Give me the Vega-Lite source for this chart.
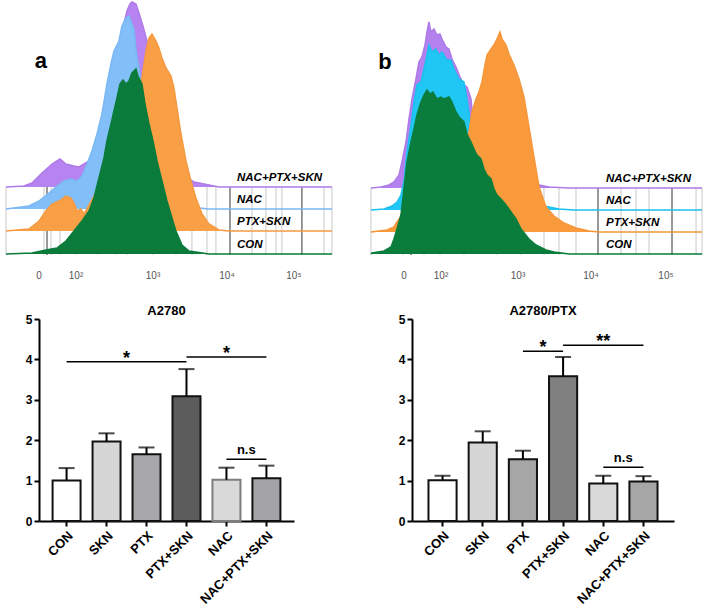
{
"$schema": "https://vega.github.io/schema/vega-lite/v6.json",
"padding": {"left": 3, "top": -2, "right": 0, "bottom": 0},
"background": "white",
"columns": 2,
"bounds": "flush",
"spacing": {"row": 65, "column": 118},
"resolve": {"scale": {"color": "independent", "fill": "independent", "stroke": "independent"}},
"config": {
  "view": {"stroke": null},
  "font": "Liberation Sans",
  "title": {"font": "Liberation Sans", "color": "black"},
  "axis": {"labelFont": "Liberation Sans", "titleFont": "Liberation Sans", "labelColor": "black", "titleColor": "black"},
  "text": {"font": "Liberation Sans"}
},
"datasets": {
  "histA": [
    {"s":"NAC+PTX+SKN","d":1.060,"y":67,"base":67},{"s":"NAC+PTX+SKN","d":1.298,"y":68,"base":67},{"s":"NAC+PTX+SKN","d":1.404,"y":71,"base":67},{"s":"NAC+PTX+SKN","d":1.537,"y":81,"base":67},{"s":"NAC+PTX+SKN","d":1.669,"y":90,"base":67},{"s":"NAC+PTX+SKN","d":1.775,"y":95,"base":67},{"s":"NAC+PTX+SKN","d":1.854,"y":90,"base":67},{"s":"NAC+PTX+SKN","d":1.960,"y":88,"base":67},{"s":"NAC+PTX+SKN","d":2.027,"y":87,"base":67},{"s":"NAC+PTX+SKN","d":2.093,"y":90,"base":67},{"s":"NAC+PTX+SKN","d":2.159,"y":93,"base":67},{"s":"NAC+PTX+SKN","d":2.291,"y":122,"base":67},{"s":"NAC+PTX+SKN","d":2.424,"y":175,"base":67},{"s":"NAC+PTX+SKN","d":2.556,"y":211,"base":67},{"s":"NAC+PTX+SKN","d":2.623,"y":231,"base":67},{"s":"NAC+PTX+SKN","d":2.662,"y":243,"base":67},{"s":"NAC+PTX+SKN","d":2.702,"y":250,"base":67},{"s":"NAC+PTX+SKN","d":2.729,"y":252,"base":67},{"s":"NAC+PTX+SKN","d":2.782,"y":250,"base":67},{"s":"NAC+PTX+SKN","d":2.821,"y":241,"base":67},{"s":"NAC+PTX+SKN","d":2.874,"y":228,"base":67},{"s":"NAC+PTX+SKN","d":2.927,"y":213,"base":67},{"s":"NAC+PTX+SKN","d":2.954,"y":203,"base":67},{"s":"NAC+PTX+SKN","d":3.086,"y":173,"base":67},{"s":"NAC+PTX+SKN","d":3.219,"y":133,"base":67},{"s":"NAC+PTX+SKN","d":3.351,"y":95,"base":67},{"s":"NAC+PTX+SKN","d":3.457,"y":76,"base":67},{"s":"NAC+PTX+SKN","d":3.550,"y":72,"base":67},{"s":"NAC+PTX+SKN","d":3.682,"y":70,"base":67},{"s":"NAC+PTX+SKN","d":3.881,"y":67,"base":67},{"s":"NAC+PTX+SKN","d":5.378,"y":67,"base":67},
    {"s":"NAC","d":1.060,"y":45,"base":45},{"s":"NAC","d":1.364,"y":48,"base":45},{"s":"NAC","d":1.497,"y":53,"base":45},{"s":"NAC","d":1.629,"y":61,"base":45},{"s":"NAC","d":1.735,"y":68,"base":45},{"s":"NAC","d":1.828,"y":73,"base":45},{"s":"NAC","d":1.921,"y":75,"base":45},{"s":"NAC","d":2.000,"y":73,"base":45},{"s":"NAC","d":2.066,"y":78,"base":45},{"s":"NAC","d":2.133,"y":90,"base":45},{"s":"NAC","d":2.199,"y":103,"base":45},{"s":"NAC","d":2.265,"y":120,"base":45},{"s":"NAC","d":2.331,"y":140,"base":45},{"s":"NAC","d":2.397,"y":170,"base":45},{"s":"NAC","d":2.450,"y":190,"base":45},{"s":"NAC","d":2.490,"y":203,"base":45},{"s":"NAC","d":2.556,"y":213,"base":45},{"s":"NAC","d":2.596,"y":228,"base":45},{"s":"NAC","d":2.649,"y":236,"base":45},{"s":"NAC","d":2.689,"y":238,"base":45},{"s":"NAC","d":2.755,"y":225,"base":45},{"s":"NAC","d":2.782,"y":203,"base":45},{"s":"NAC","d":2.821,"y":186,"base":45},{"s":"NAC","d":2.861,"y":168,"base":45},{"s":"NAC","d":2.954,"y":143,"base":45},{"s":"NAC","d":3.086,"y":113,"base":45},{"s":"NAC","d":3.219,"y":83,"base":45},{"s":"NAC","d":3.351,"y":61,"base":45},{"s":"NAC","d":3.484,"y":50,"base":45},{"s":"NAC","d":3.616,"y":46,"base":45},{"s":"NAC","d":3.748,"y":45,"base":45},{"s":"NAC","d":5.378,"y":45,"base":45},
    {"s":"PTX+SKN","d":1.060,"y":23,"base":23},{"s":"PTX+SKN","d":1.364,"y":25,"base":23},{"s":"PTX+SKN","d":1.497,"y":33,"base":23},{"s":"PTX+SKN","d":1.590,"y":43,"base":23},{"s":"PTX+SKN","d":1.669,"y":50,"base":23},{"s":"PTX+SKN","d":1.762,"y":53,"base":23},{"s":"PTX+SKN","d":1.854,"y":58,"base":23},{"s":"PTX+SKN","d":1.921,"y":56,"base":23},{"s":"PTX+SKN","d":1.960,"y":51,"base":23},{"s":"PTX+SKN","d":2.000,"y":43,"base":23},{"s":"PTX+SKN","d":2.053,"y":45,"base":23},{"s":"PTX+SKN","d":2.093,"y":40,"base":23},{"s":"PTX+SKN","d":2.225,"y":58,"base":23},{"s":"PTX+SKN","d":2.424,"y":88,"base":23},{"s":"PTX+SKN","d":2.623,"y":128,"base":23},{"s":"PTX+SKN","d":2.795,"y":163,"base":23},{"s":"PTX+SKN","d":2.861,"y":176,"base":23},{"s":"PTX+SKN","d":2.914,"y":203,"base":23},{"s":"PTX+SKN","d":2.954,"y":216,"base":23},{"s":"PTX+SKN","d":2.993,"y":220,"base":23},{"s":"PTX+SKN","d":3.046,"y":213,"base":23},{"s":"PTX+SKN","d":3.086,"y":206,"base":23},{"s":"PTX+SKN","d":3.126,"y":196,"base":23},{"s":"PTX+SKN","d":3.179,"y":186,"base":23},{"s":"PTX+SKN","d":3.245,"y":178,"base":23},{"s":"PTX+SKN","d":3.285,"y":166,"base":23},{"s":"PTX+SKN","d":3.325,"y":146,"base":23},{"s":"PTX+SKN","d":3.378,"y":120,"base":23},{"s":"PTX+SKN","d":3.444,"y":93,"base":23},{"s":"PTX+SKN","d":3.510,"y":73,"base":23},{"s":"PTX+SKN","d":3.576,"y":56,"base":23},{"s":"PTX+SKN","d":3.656,"y":40,"base":23},{"s":"PTX+SKN","d":3.748,"y":30,"base":23},{"s":"PTX+SKN","d":3.881,"y":24,"base":23},{"s":"PTX+SKN","d":4.013,"y":23,"base":23},{"s":"PTX+SKN","d":5.378,"y":23,"base":23},
    {"s":"CON","d":1.060,"y":0,"base":0},{"s":"CON","d":1.404,"y":1,"base":0},{"s":"CON","d":1.590,"y":4,"base":0},{"s":"CON","d":1.735,"y":6,"base":0},{"s":"CON","d":1.854,"y":13,"base":0},{"s":"CON","d":1.960,"y":23,"base":0},{"s":"CON","d":2.066,"y":33,"base":0},{"s":"CON","d":2.159,"y":43,"base":0},{"s":"CON","d":2.225,"y":56,"base":0},{"s":"CON","d":2.291,"y":76,"base":0},{"s":"CON","d":2.358,"y":96,"base":0},{"s":"CON","d":2.397,"y":113,"base":0},{"s":"CON","d":2.450,"y":130,"base":0},{"s":"CON","d":2.490,"y":143,"base":0},{"s":"CON","d":2.530,"y":156,"base":0},{"s":"CON","d":2.570,"y":170,"base":0},{"s":"CON","d":2.609,"y":174,"base":0},{"s":"CON","d":2.649,"y":170,"base":0},{"s":"CON","d":2.689,"y":173,"base":0},{"s":"CON","d":2.729,"y":181,"base":0},{"s":"CON","d":2.782,"y":185,"base":0},{"s":"CON","d":2.808,"y":178,"base":0},{"s":"CON","d":2.861,"y":170,"base":0},{"s":"CON","d":2.901,"y":150,"base":0},{"s":"CON","d":2.954,"y":130,"base":0},{"s":"CON","d":3.007,"y":113,"base":0},{"s":"CON","d":3.060,"y":93,"base":0},{"s":"CON","d":3.126,"y":73,"base":0},{"s":"CON","d":3.192,"y":53,"base":0},{"s":"CON","d":3.258,"y":36,"base":0},{"s":"CON","d":3.311,"y":23,"base":0},{"s":"CON","d":3.391,"y":9,"base":0},{"s":"CON","d":3.484,"y":3,"base":0},{"s":"CON","d":3.748,"y":0,"base":0},{"s":"CON","d":5.378,"y":0,"base":0}
  ],
  "histB": [
    {"s":"NAC+PTX+SKN","d":1.084,"y":66,"base":66},{"s":"NAC+PTX+SKN","d":1.214,"y":67,"base":66},{"s":"NAC+PTX+SKN","d":1.317,"y":69,"base":66},{"s":"NAC+PTX+SKN","d":1.382,"y":72,"base":66},{"s":"NAC+PTX+SKN","d":1.447,"y":79,"base":66},{"s":"NAC+PTX+SKN","d":1.485,"y":92,"base":66},{"s":"NAC+PTX+SKN","d":1.537,"y":112,"base":66},{"s":"NAC+PTX+SKN","d":1.576,"y":135,"base":66},{"s":"NAC+PTX+SKN","d":1.615,"y":155,"base":66},{"s":"NAC+PTX+SKN","d":1.666,"y":175,"base":66},{"s":"NAC+PTX+SKN","d":1.705,"y":192,"base":66},{"s":"NAC+PTX+SKN","d":1.744,"y":197,"base":66},{"s":"NAC+PTX+SKN","d":1.783,"y":209,"base":66},{"s":"NAC+PTX+SKN","d":1.809,"y":222,"base":66},{"s":"NAC+PTX+SKN","d":1.834,"y":232,"base":66},{"s":"NAC+PTX+SKN","d":1.860,"y":222,"base":66},{"s":"NAC+PTX+SKN","d":1.899,"y":225,"base":66},{"s":"NAC+PTX+SKN","d":1.938,"y":219,"base":66},{"s":"NAC+PTX+SKN","d":1.977,"y":220,"base":66},{"s":"NAC+PTX+SKN","d":2.003,"y":215,"base":66},{"s":"NAC+PTX+SKN","d":2.055,"y":207,"base":66},{"s":"NAC+PTX+SKN","d":2.093,"y":205,"base":66},{"s":"NAC+PTX+SKN","d":2.132,"y":195,"base":66},{"s":"NAC+PTX+SKN","d":2.184,"y":187,"base":66},{"s":"NAC+PTX+SKN","d":2.236,"y":177,"base":66},{"s":"NAC+PTX+SKN","d":2.287,"y":169,"base":66},{"s":"NAC+PTX+SKN","d":2.326,"y":167,"base":66},{"s":"NAC+PTX+SKN","d":2.378,"y":155,"base":66},{"s":"NAC+PTX+SKN","d":2.391,"y":145,"base":66},{"s":"NAC+PTX+SKN","d":2.481,"y":127,"base":66},{"s":"NAC+PTX+SKN","d":2.611,"y":102,"base":66},{"s":"NAC+PTX+SKN","d":2.740,"y":84,"base":66},{"s":"NAC+PTX+SKN","d":2.869,"y":76,"base":66},{"s":"NAC+PTX+SKN","d":2.999,"y":72,"base":66},{"s":"NAC+PTX+SKN","d":3.128,"y":70,"base":66},{"s":"NAC+PTX+SKN","d":3.258,"y":69,"base":66},{"s":"NAC+PTX+SKN","d":3.387,"y":67,"base":66},{"s":"NAC+PTX+SKN","d":3.646,"y":66,"base":66},{"s":"NAC+PTX+SKN","d":5.366,"y":66,"base":66},
    {"s":"NAC","d":1.084,"y":44,"base":44},{"s":"NAC","d":1.253,"y":45,"base":44},{"s":"NAC","d":1.356,"y":48,"base":44},{"s":"NAC","d":1.421,"y":52,"base":44},{"s":"NAC","d":1.472,"y":59,"base":44},{"s":"NAC","d":1.511,"y":72,"base":44},{"s":"NAC","d":1.550,"y":102,"base":44},{"s":"NAC","d":1.602,"y":129,"base":44},{"s":"NAC","d":1.641,"y":152,"base":44},{"s":"NAC","d":1.679,"y":169,"base":44},{"s":"NAC","d":1.731,"y":172,"base":44},{"s":"NAC","d":1.770,"y":185,"base":44},{"s":"NAC","d":1.809,"y":199,"base":44},{"s":"NAC","d":1.834,"y":209,"base":44},{"s":"NAC","d":1.873,"y":202,"base":44},{"s":"NAC","d":1.925,"y":205,"base":44},{"s":"NAC","d":1.964,"y":199,"base":44},{"s":"NAC","d":2.003,"y":202,"base":44},{"s":"NAC","d":2.067,"y":194,"base":44},{"s":"NAC","d":2.119,"y":194,"base":44},{"s":"NAC","d":2.158,"y":185,"base":44},{"s":"NAC","d":2.223,"y":175,"base":44},{"s":"NAC","d":2.287,"y":172,"base":44},{"s":"NAC","d":2.326,"y":155,"base":44},{"s":"NAC","d":2.352,"y":142,"base":44},{"s":"NAC","d":2.378,"y":125,"base":44},{"s":"NAC","d":2.481,"y":102,"base":44},{"s":"NAC","d":2.611,"y":82,"base":44},{"s":"NAC","d":2.740,"y":67,"base":44},{"s":"NAC","d":2.934,"y":56,"base":44},{"s":"NAC","d":3.128,"y":51,"base":44},{"s":"NAC","d":3.258,"y":49,"base":44},{"s":"NAC","d":3.387,"y":47,"base":44},{"s":"NAC","d":3.516,"y":45,"base":44},{"s":"NAC","d":3.710,"y":44,"base":44},{"s":"NAC","d":5.366,"y":44,"base":44},
    {"s":"PTX+SKN","d":1.084,"y":22,"base":22},{"s":"PTX+SKN","d":1.291,"y":24,"base":22},{"s":"PTX+SKN","d":1.382,"y":27,"base":22},{"s":"PTX+SKN","d":1.421,"y":32,"base":22},{"s":"PTX+SKN","d":1.511,"y":42,"base":22},{"s":"PTX+SKN","d":1.705,"y":62,"base":22},{"s":"PTX+SKN","d":1.964,"y":77,"base":22},{"s":"PTX+SKN","d":2.158,"y":92,"base":22},{"s":"PTX+SKN","d":2.287,"y":112,"base":22},{"s":"PTX+SKN","d":2.352,"y":122,"base":22},{"s":"PTX+SKN","d":2.391,"y":142,"base":22},{"s":"PTX+SKN","d":2.443,"y":155,"base":22},{"s":"PTX+SKN","d":2.481,"y":162,"base":22},{"s":"PTX+SKN","d":2.520,"y":172,"base":22},{"s":"PTX+SKN","d":2.559,"y":189,"base":22},{"s":"PTX+SKN","d":2.585,"y":199,"base":22},{"s":"PTX+SKN","d":2.637,"y":205,"base":22},{"s":"PTX+SKN","d":2.675,"y":209,"base":22},{"s":"PTX+SKN","d":2.714,"y":215,"base":22},{"s":"PTX+SKN","d":2.753,"y":222,"base":22},{"s":"PTX+SKN","d":2.779,"y":215,"base":22},{"s":"PTX+SKN","d":2.831,"y":209,"base":22},{"s":"PTX+SKN","d":2.869,"y":200,"base":22},{"s":"PTX+SKN","d":2.934,"y":189,"base":22},{"s":"PTX+SKN","d":2.999,"y":175,"base":22},{"s":"PTX+SKN","d":3.063,"y":157,"base":22},{"s":"PTX+SKN","d":3.128,"y":127,"base":22},{"s":"PTX+SKN","d":3.193,"y":97,"base":22},{"s":"PTX+SKN","d":3.258,"y":67,"base":22},{"s":"PTX+SKN","d":3.348,"y":47,"base":22},{"s":"PTX+SKN","d":3.452,"y":38,"base":22},{"s":"PTX+SKN","d":3.581,"y":31,"base":22},{"s":"PTX+SKN","d":3.736,"y":26,"base":22},{"s":"PTX+SKN","d":3.904,"y":23,"base":22},{"s":"PTX+SKN","d":4.034,"y":22,"base":22},{"s":"PTX+SKN","d":5.366,"y":22,"base":22},
    {"s":"CON","d":1.084,"y":0,"base":0},{"s":"CON","d":1.097,"y":1,"base":0},{"s":"CON","d":1.253,"y":3,"base":0},{"s":"CON","d":1.343,"y":7,"base":0},{"s":"CON","d":1.382,"y":15,"base":0},{"s":"CON","d":1.421,"y":25,"base":0},{"s":"CON","d":1.472,"y":39,"base":0},{"s":"CON","d":1.511,"y":65,"base":0},{"s":"CON","d":1.550,"y":92,"base":0},{"s":"CON","d":1.602,"y":112,"base":0},{"s":"CON","d":1.641,"y":125,"base":0},{"s":"CON","d":1.679,"y":139,"base":0},{"s":"CON","d":1.731,"y":152,"base":0},{"s":"CON","d":1.770,"y":159,"base":0},{"s":"CON","d":1.809,"y":164,"base":0},{"s":"CON","d":1.847,"y":160,"base":0},{"s":"CON","d":1.886,"y":162,"base":0},{"s":"CON","d":1.938,"y":155,"base":0},{"s":"CON","d":1.990,"y":157,"base":0},{"s":"CON","d":2.029,"y":155,"base":0},{"s":"CON","d":2.093,"y":157,"base":0},{"s":"CON","d":2.132,"y":152,"base":0},{"s":"CON","d":2.184,"y":142,"base":0},{"s":"CON","d":2.223,"y":137,"base":0},{"s":"CON","d":2.287,"y":132,"base":0},{"s":"CON","d":2.326,"y":120,"base":0},{"s":"CON","d":2.378,"y":112,"base":0},{"s":"CON","d":2.417,"y":105,"base":0},{"s":"CON","d":2.455,"y":99,"base":0},{"s":"CON","d":2.507,"y":95,"base":0},{"s":"CON","d":2.546,"y":85,"base":0},{"s":"CON","d":2.585,"y":79,"base":0},{"s":"CON","d":2.637,"y":75,"base":0},{"s":"CON","d":2.675,"y":65,"base":0},{"s":"CON","d":2.714,"y":59,"base":0},{"s":"CON","d":2.766,"y":55,"base":0},{"s":"CON","d":2.831,"y":49,"base":0},{"s":"CON","d":2.895,"y":42,"base":0},{"s":"CON","d":2.960,"y":35,"base":0},{"s":"CON","d":3.025,"y":25,"base":0},{"s":"CON","d":3.128,"y":15,"base":0},{"s":"CON","d":3.219,"y":9,"base":0},{"s":"CON","d":3.348,"y":4,"base":0},{"s":"CON","d":3.452,"y":2,"base":0},{"s":"CON","d":3.646,"y":0,"base":0},{"s":"CON","d":5.366,"y":0,"base":0}
  ],
  "gridA": [
    {"d":1.060,"k":"light"},{"d":1.563,"k":"light"},{"d":1.603,"k":"dark"},{"d":1.656,"k":"light"},{"d":1.775,"k":"light"},{"d":1.987,"k":"light"},{"d":2.278,"k":"light"},{"d":2.517,"k":"light"},{"d":2.662,"k":"light"},{"d":3.007,"k":"light"},{"d":3.311,"k":"light"},{"d":3.523,"k":"light"},{"d":3.722,"k":"light"},{"d":3.841,"k":"light"},{"d":4.027,"k":"dark"},{"d":4.318,"k":"light"},{"d":4.503,"k":"light"},{"d":4.636,"k":"light"},{"d":4.715,"k":"light"},{"d":4.980,"k":"dark"},{"d":5.272,"k":"light"},{"d":5.378,"k":"light"}
  ],
  "gridB": [
    {"d":1.084,"k":"light"},{"d":1.498,"k":"light"},{"d":1.602,"k":"dark"},{"d":1.770,"k":"light"},{"d":1.977,"k":"light"},{"d":2.287,"k":"light"},{"d":2.714,"k":"light"},{"d":3.025,"k":"light"},{"d":3.322,"k":"light"},{"d":3.516,"k":"light"},{"d":3.736,"k":"light"},{"d":4.021,"k":"dark"},{"d":4.319,"k":"light"},{"d":4.513,"k":"light"},{"d":4.681,"k":"light"},{"d":4.978,"k":"dark"},{"d":5.289,"k":"light"},{"d":5.366,"k":"light"}
  ],
  "tickA": [{"d":1.497,"lab":"0"},{"d":1.987,"lab":"10²"},{"d":3.007,"lab":"10³"},{"d":3.987,"lab":"10⁴"},{"d":4.874,"lab":"10⁵"}],
  "tickB": [{"d":1.511,"lab":"0"},{"d":1.99,"lab":"10²"},{"d":2.986,"lab":"10³"},{"d":3.93,"lab":"10⁴"},{"d":4.9,"lab":"10⁵"}],
  "labA": [{"s":"NAC+PTX+SKN","base":67},{"s":"NAC","base":45},{"s":"PTX+SKN","base":23},{"s":"CON","base":0}],
  "labB": [{"s":"NAC+PTX+SKN","base":66},{"s":"NAC","base":44},{"s":"PTX+SKN","base":22},{"s":"CON","base":0}],
  "barA": [
    {"g":"CON","m":1.0,"hi":1.31},{"g":"SKN","m":1.97,"hi":2.17},{"g":"PTX","m":1.65,"hi":1.82},{"g":"PTX+SKN","m":3.09,"hi":3.76},{"g":"NAC","m":1.02,"hi":1.32},{"g":"NAC+PTX+SKN","m":1.06,"hi":1.37}
  ],
  "barB": [
    {"g":"CON","m":1.01,"hi":1.12},{"g":"SKN","m":1.94,"hi":2.22},{"g":"PTX","m":1.53,"hi":1.74},{"g":"PTX+SKN","m":3.58,"hi":4.06},{"g":"NAC","m":0.93,"hi":1.12},{"g":"NAC+PTX+SKN","m":0.98,"hi":1.11}
  ],
  "sigA": [
    {"from":"CON","to":"PTX+SKN","y":3.94,"t":"*","at":"SKN","where":"between"},
    {"from":"PTX+SKN","to":"NAC+PTX+SKN","y":4.06,"t":"*","at":"NAC","where":"center"},
    {"from":"NAC","to":"NAC+PTX+SKN","y":1.53,"t":"n.s","at":"NAC","where":"between"}
  ],
  "sigB": [
    {"from":"PTX","to":"PTX+SKN","y":4.2,"t":"*","at":"PTX","where":"between"},
    {"from":"PTX+SKN","to":"NAC+PTX+SKN","y":4.35,"t":"**","at":"NAC","where":"center"},
    {"from":"NAC","to":"NAC+PTX+SKN","y":1.33,"t":"n.s","at":"NAC","where":"between"}
  ]
},
"concat": [
  {
    "width": 255, "height": 253,
    "layer": [
      {"data": {"name": "gridA"}, "mark": {"type": "rule", "strokeWidth": 1}, "encoding": {
        "x": {"field": "d", "type": "quantitative", "scale": {"domain": [1.497, 4.875], "nice": false, "zero": false}, "axis": null},
        "y": {"datum": -1, "type": "quantitative", "scale": {"domain": [0, 253], "nice": false, "zero": false}, "axis": null},
        "y2": {"datum": 67},
        "color": {"field": "k", "type": "nominal", "scale": {"domain": ["light", "dark"], "range": ["#c8c8c8", "#333333"]}, "legend": null}}},
      {"data": {"name": "histA"}, "transform": [{"filter": "datum.s === 'NAC+PTX+SKN'"}], "mark": {"type": "area", "color": "#b683f0", "opacity": 1, "line": {"color": "#b07be8", "strokeWidth": 1.5}}, "encoding": {
        "x": {"field": "d", "type": "quantitative", "scale": {"domain": [1.497, 4.875], "nice": false, "zero": false}, "axis": null},
        "y": {"field": "y", "type": "quantitative", "scale": {"domain": [0, 253], "nice": false, "zero": false}, "axis": null},
        "y2": {"field": "base"}}},
      {"data": {"name": "histA"}, "transform": [{"filter": "datum.s === 'NAC'"}], "mark": {"type": "area", "color": "#82bef8", "opacity": 1, "line": {"color": "#7ab8f5", "strokeWidth": 1.5}}, "encoding": {
        "x": {"field": "d", "type": "quantitative", "axis": null},
        "y": {"field": "y", "type": "quantitative", "axis": null},
        "y2": {"field": "base"}}},
      {"data": {"name": "histA"}, "transform": [{"filter": "datum.s === 'PTX+SKN'"}], "mark": {"type": "area", "color": "#f9a046", "opacity": 1, "line": {"color": "#f59a40", "strokeWidth": 1.5}}, "encoding": {
        "x": {"field": "d", "type": "quantitative", "axis": null},
        "y": {"field": "y", "type": "quantitative", "axis": null},
        "y2": {"field": "base"}}},
      {"data": {"name": "histA"}, "transform": [{"filter": "datum.s === 'CON'"}], "mark": {"type": "area", "color": "#0a7b3b", "opacity": 1, "line": {"color": "#0a7b3b", "strokeWidth": 1.5}}, "encoding": {
        "x": {"field": "d", "type": "quantitative", "axis": null},
        "y": {"field": "y", "type": "quantitative", "axis": null},
        "y2": {"field": "base"}}},
      {"data": {"name": "tickA"}, "mark": {"type": "text", "fontSize": 10, "color": "#555555", "baseline": "middle", "align": "center"}, "encoding": {
        "x": {"field": "d", "type": "quantitative", "axis": null},
        "y": {"datum": -22, "type": "quantitative", "axis": null},
        "text": {"field": "lab"}}},
      {"data": {"name": "labA"}, "mark": {"type": "text", "align": "left", "baseline": "alphabetic", "dy": -6, "fontSize": 11.5, "fontWeight": "bold", "fontStyle": "italic", "color": "black"}, "encoding": {
        "x": {"datum": 4.12, "type": "quantitative", "axis": null},
        "y": {"field": "base", "type": "quantitative", "axis": null},
        "text": {"field": "s"}}},
      {"data": {"values": [{"panel": "a"}]}, "mark": {"type": "text", "align": "center", "baseline": "alphabetic", "fontSize": 22, "fontWeight": "bold", "color": "black"}, "encoding": {
        "x": {"datum": 1.523, "type": "quantitative", "axis": null},
        "y": {"datum": 186, "type": "quantitative", "axis": null},
        "text": {"field": "panel"}}}
    ]
  },
  {
    "width": 290, "height": 253,
    "layer": [
      {"data": {"name": "gridB"}, "mark": {"type": "rule", "strokeWidth": 1}, "encoding": {
        "x": {"field": "d", "type": "quantitative", "scale": {"domain": [1.615, 5.366], "nice": false, "zero": false}, "axis": null},
        "y": {"datum": -1, "type": "quantitative", "scale": {"domain": [0, 253], "nice": false, "zero": false}, "axis": null},
        "y2": {"datum": 66},
        "color": {"field": "k", "type": "nominal", "scale": {"domain": ["light", "dark"], "range": ["#c8c8c8", "#333333"]}, "legend": null}}},
      {"data": {"name": "histB"}, "transform": [{"filter": "datum.s === 'NAC+PTX+SKN'"}], "mark": {"type": "area", "color": "#b382ee", "opacity": 1, "line": {"color": "#ad7ae8", "strokeWidth": 1.5}}, "encoding": {
        "x": {"field": "d", "type": "quantitative", "scale": {"domain": [1.615, 5.366], "nice": false, "zero": false}, "axis": null},
        "y": {"field": "y", "type": "quantitative", "scale": {"domain": [0, 253], "nice": false, "zero": false}, "axis": null},
        "y2": {"field": "base"}}},
      {"data": {"name": "histB"}, "transform": [{"filter": "datum.s === 'NAC'"}], "mark": {"type": "area", "color": "#20c6f4", "opacity": 1, "line": {"color": "#1cc0ee", "strokeWidth": 1.5}}, "encoding": {
        "x": {"field": "d", "type": "quantitative", "axis": null},
        "y": {"field": "y", "type": "quantitative", "axis": null},
        "y2": {"field": "base"}}},
      {"data": {"name": "histB"}, "transform": [{"filter": "datum.s === 'PTX+SKN'"}], "mark": {"type": "area", "color": "#f99a3c", "opacity": 1, "line": {"color": "#f5963a", "strokeWidth": 1.5}}, "encoding": {
        "x": {"field": "d", "type": "quantitative", "axis": null},
        "y": {"field": "y", "type": "quantitative", "axis": null},
        "y2": {"field": "base"}}},
      {"data": {"name": "histB"}, "transform": [{"filter": "datum.s === 'CON'"}], "mark": {"type": "area", "color": "#0a7d3d", "opacity": 1, "line": {"color": "#0a7d3d", "strokeWidth": 1.5}}, "encoding": {
        "x": {"field": "d", "type": "quantitative", "axis": null},
        "y": {"field": "y", "type": "quantitative", "axis": null},
        "y2": {"field": "base"}}},
      {"data": {"name": "tickB"}, "mark": {"type": "text", "fontSize": 10, "color": "#555555", "baseline": "middle", "align": "center"}, "encoding": {
        "x": {"field": "d", "type": "quantitative", "axis": null},
        "y": {"datum": -22, "type": "quantitative", "axis": null},
        "text": {"field": "lab"}}},
      {"data": {"name": "labB"}, "mark": {"type": "text", "align": "left", "baseline": "alphabetic", "dy": -6, "fontSize": 11.5, "fontWeight": "bold", "fontStyle": "italic", "color": "black"}, "encoding": {
        "x": {"datum": 4.124, "type": "quantitative", "axis": null},
        "y": {"field": "base", "type": "quantitative", "axis": null},
        "text": {"field": "s"}}},
      {"data": {"values": [{"panel": "b"}]}, "mark": {"type": "text", "align": "center", "baseline": "alphabetic", "fontSize": 22, "fontWeight": "bold", "color": "black"}, "encoding": {
        "x": {"datum": 1.265, "type": "quantitative", "axis": null},
        "y": {"datum": 185, "type": "quantitative", "axis": null},
        "text": {"field": "panel"}}}
    ]
  },
  {
    "width": 255, "height": 202,
    "title": {"text": "A2780", "fontSize": 13, "fontWeight": "bold", "offset": -5, "frame": "group"},
    "data": {"name": "barA"},
    "layer": [
      {"mark": {"type": "bar", "strokeWidth": 2}, "encoding": {
        "x": {"field": "g", "type": "nominal", "sort": null, "scale": {"domain": ["CON","SKN","PTX","PTX+SKN","NAC","NAC+PTX+SKN"], "paddingInner": 0.3, "paddingOuter": 0.34},
          "axis": {"title": null, "labelAngle": -45, "labelFontSize": 13, "labelFontWeight": "bold", "domainColor": "black", "domainWidth": 2, "tickColor": "black", "tickWidth": 2, "tickSize": 5, "labelPadding": 3}},
        "y": {"field": "m", "type": "quantitative", "scale": {"domain": [0, 5], "nice": false},
          "axis": {"values": [0,1,2,3,4,5], "title": "Relative ROS level", "titleFontSize": 14, "titleFontWeight": "normal", "titlePadding": 12, "labelFontSize": 12, "labelFontWeight": "bold", "labelPadding": 2, "tickSize": 5, "tickWidth": 2, "tickColor": "black", "domainColor": "black", "domainWidth": 2, "grid": false}},
        "fill": {"field": "g", "type": "nominal", "scale": {"domain": ["CON","SKN","PTX","PTX+SKN","NAC","NAC+PTX+SKN"], "range": ["#ffffff","#d6d6d6","#a7a7ac","#5c5c5c","#d9d9d9","#a3a3a8"]}, "legend": null},
        "stroke": {"field": "g", "type": "nominal", "scale": {"domain": ["CON","SKN","PTX","PTX+SKN","NAC","NAC+PTX+SKN"], "range": ["#111111","#111111","#111111","#111111","#7d7d7d","#111111"]}, "legend": null}
      }},
      {"mark": {"type": "rule", "color": "black", "strokeWidth": 2}, "encoding": {"x": {"field": "g", "type": "nominal", "sort": null, "title": null}, "y": {"field": "m", "type": "quantitative", "title": null}, "y2": {"field": "hi"}}},
      {"mark": {"type": "tick", "color": "black", "thickness": 2, "size": 16}, "encoding": {"x": {"field": "g", "type": "nominal", "sort": null, "title": null}, "y": {"field": "hi", "type": "quantitative", "title": null}}},
      {"data": {"name": "sigA"}, "mark": {"type": "rule", "color": "black", "strokeWidth": 1.5}, "encoding": {"x": {"field": "from", "type": "nominal", "sort": null, "title": null}, "x2": {"field": "to"}, "y": {"field": "y", "type": "quantitative", "title": null}}},
      {"data": {"name": "sigA"}, "transform": [{"filter": "datum.t !== 'n.s' && datum.where === 'between'"}], "mark": {"type": "text", "fontSize": 18, "fontWeight": "bold", "baseline": "alphabetic", "dy": 2, "color": "black"}, "encoding": {"x": {"field": "at", "type": "nominal", "sort": null, "bandPosition": 1.21, "title": null}, "y": {"field": "y", "type": "quantitative", "title": null}, "text": {"field": "t"}}},
      {"data": {"name": "sigA"}, "transform": [{"filter": "datum.t !== 'n.s' && datum.where === 'center'"}], "mark": {"type": "text", "fontSize": 18, "fontWeight": "bold", "baseline": "alphabetic", "dy": 2, "color": "black"}, "encoding": {"x": {"field": "at", "type": "nominal", "sort": null, "title": null}, "y": {"field": "y", "type": "quantitative", "title": null}, "text": {"field": "t"}}},
      {"data": {"name": "sigA"}, "transform": [{"filter": "datum.t === 'n.s'"}], "mark": {"type": "text", "fontSize": 13, "fontWeight": "bold", "baseline": "alphabetic", "dy": -5, "color": "black"}, "encoding": {"x": {"field": "at", "type": "nominal", "sort": null, "bandPosition": 1.21, "title": null}, "y": {"field": "y", "type": "quantitative", "title": null}, "text": {"field": "t"}}}
    ]
  },
  {
    "width": 262, "height": 202,
    "title": {"text": "A2780/PTX", "fontSize": 13, "fontWeight": "bold", "offset": -5, "frame": "group"},
    "data": {"name": "barB"},
    "layer": [
      {"mark": {"type": "bar", "strokeWidth": 2}, "encoding": {
        "x": {"field": "g", "type": "nominal", "sort": null, "scale": {"domain": ["CON","SKN","PTX","PTX+SKN","NAC","NAC+PTX+SKN"], "paddingInner": 0.3, "paddingOuter": 0.41},
          "axis": {"title": null, "labelAngle": -45, "labelFontSize": 13, "labelFontWeight": "bold", "domainColor": "black", "domainWidth": 2, "tickColor": "black", "tickWidth": 2, "tickSize": 5, "labelPadding": 3}},
        "y": {"field": "m", "type": "quantitative", "scale": {"domain": [0, 5], "nice": false},
          "axis": {"values": [0,1,2,3,4,5], "title": "Relative ROS level", "titleFontSize": 14, "titleFontWeight": "normal", "titlePadding": 12, "labelFontSize": 12, "labelFontWeight": "bold", "labelPadding": 2, "tickSize": 5, "tickWidth": 2, "tickColor": "black", "domainColor": "black", "domainWidth": 2, "grid": false}},
        "fill": {"field": "g", "type": "nominal", "scale": {"domain": ["CON","SKN","PTX","PTX+SKN","NAC","NAC+PTX+SKN"], "range": ["#ffffff","#d6d6d6","#a6a6a6","#808080","#d9d9d9","#a6a6a6"]}, "legend": null},
        "stroke": {"field": "g", "type": "nominal", "scale": {"domain": ["CON","SKN","PTX","PTX+SKN","NAC","NAC+PTX+SKN"], "range": ["#111111","#111111","#111111","#111111","#111111","#111111"]}, "legend": null}
      }},
      {"mark": {"type": "rule", "color": "black", "strokeWidth": 2}, "encoding": {"x": {"field": "g", "type": "nominal", "sort": null, "title": null}, "y": {"field": "m", "type": "quantitative", "title": null}, "y2": {"field": "hi"}}},
      {"mark": {"type": "tick", "color": "black", "thickness": 2, "size": 16}, "encoding": {"x": {"field": "g", "type": "nominal", "sort": null, "title": null}, "y": {"field": "hi", "type": "quantitative", "title": null}}},
      {"data": {"name": "sigB"}, "mark": {"type": "rule", "color": "black", "strokeWidth": 1.5}, "encoding": {"x": {"field": "from", "type": "nominal", "sort": null, "title": null}, "x2": {"field": "to"}, "y": {"field": "y", "type": "quantitative", "title": null}}},
      {"data": {"name": "sigB"}, "transform": [{"filter": "datum.t !== 'n.s' && datum.where === 'between'"}], "mark": {"type": "text", "fontSize": 18, "fontWeight": "bold", "baseline": "alphabetic", "dy": 2, "color": "black"}, "encoding": {"x": {"field": "at", "type": "nominal", "sort": null, "bandPosition": 1.21, "title": null}, "y": {"field": "y", "type": "quantitative", "title": null}, "text": {"field": "t"}}},
      {"data": {"name": "sigB"}, "transform": [{"filter": "datum.t !== 'n.s' && datum.where === 'center'"}], "mark": {"type": "text", "fontSize": 18, "fontWeight": "bold", "baseline": "alphabetic", "dy": 2, "color": "black"}, "encoding": {"x": {"field": "at", "type": "nominal", "sort": null, "title": null}, "y": {"field": "y", "type": "quantitative", "title": null}, "text": {"field": "t"}}},
      {"data": {"name": "sigB"}, "transform": [{"filter": "datum.t === 'n.s'"}], "mark": {"type": "text", "fontSize": 13, "fontWeight": "bold", "baseline": "alphabetic", "dy": -5, "color": "black"}, "encoding": {"x": {"field": "at", "type": "nominal", "sort": null, "bandPosition": 1.21, "title": null}, "y": {"field": "y", "type": "quantitative", "title": null}, "text": {"field": "t"}}}
    ]
  }
]
}
